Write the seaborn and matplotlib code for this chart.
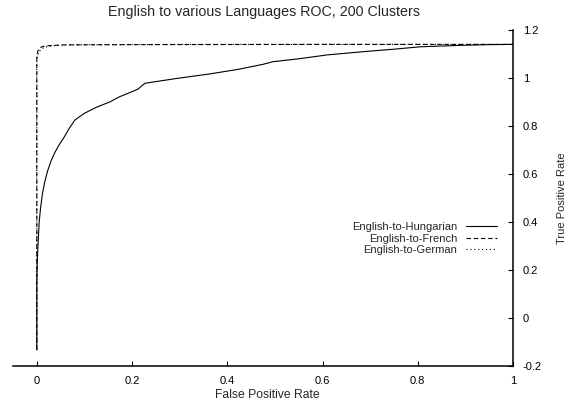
import matplotlib
matplotlib.use("Agg")
import matplotlib.pyplot as plt
import seaborn as sns
import pandas as pd

# ROC curve samples (false positive rate, true positive rate)
hungarian_fpr = [0.0, 0.0, 0.001, 0.003, 0.005, 0.008, 0.012, 0.017, 0.023, 0.030,
                 0.038, 0.047, 0.057, 0.068, 0.080, 0.100, 0.125, 0.153, 0.174, 0.200,
                 0.212, 0.227, 0.290, 0.363, 0.420, 0.475, 0.496, 0.550, 0.609, 0.693,
                 0.750, 0.805, 0.889, 0.950, 1.0]
hungarian_tpr = [-0.133, 0.146, 0.242, 0.325, 0.400, 0.460, 0.520, 0.570, 0.615, 0.655,
                 0.690, 0.722, 0.752, 0.790, 0.825, 0.853, 0.878, 0.900, 0.922, 0.943,
                 0.953, 0.978, 0.997, 1.017, 1.035, 1.057, 1.068, 1.080, 1.096, 1.111,
                 1.120, 1.130, 1.136, 1.139, 1.140]

french_fpr = [0.0, 0.0, 0.002, 0.004, 0.007, 0.012, 0.020, 0.035, 0.055, 0.200, 0.600, 1.0]
french_tpr = [-0.133, 1.090, 1.110, 1.120, 1.126, 1.131, 1.134, 1.136, 1.138, 1.139, 1.140, 1.140]

german_fpr = [0.0, 0.0, 0.002, 0.005, 0.009, 0.015, 0.025, 0.040, 0.070, 0.300, 1.0]
german_tpr = [-0.133, 1.070, 1.095, 1.110, 1.120, 1.127, 1.132, 1.135, 1.138, 1.140, 1.140]

x_ticks = [0, 0.2, 0.4, 0.6, 0.8, 1]
x_tick_labels = ["0", "0.2", "0.4", "0.6", "0.8", "1"]
y_ticks = [-0.2, 0, 0.2, 0.4, 0.6, 0.8, 1, 1.2]
y_tick_labels = ["-0.2", "0", "0.2", "0.4", "0.6", "0.8", "1", "1.2"]

sns.set_style("ticks")
plt.rcParams["font.family"] = ["Liberation Sans", "DejaVu Sans"]
plt.rcParams["font.size"] = 8

W, H = 570, 403
fig = plt.figure(figsize=(W / 100, H / 100), dpi=100)
ax = fig.add_axes([13 / W, 1 - 366 / H, 500 / W, 336 / H])

series = [
    ("English-to-Hungarian", hungarian_fpr, hungarian_tpr, "-"),
    ("English-to-French", french_fpr, french_tpr, (0, (4, 2.5))),
    ("English-to-German", german_fpr, german_tpr, (0, (1, 2.5))),
]
for name, fpr, tpr, ls in series:
    df = pd.DataFrame({"fpr": fpr, "tpr": tpr})
    sns.lineplot(data=df, x="fpr", y="tpr", ax=ax, color="black", linewidth=0.8,
                 linestyle=ls, sort=False, estimator=None, label=name)

ax.set_xlim(-0.05, 1.0)
ax.set_ylim(-0.2, 1.2)
ax.set_xticks(x_ticks)
ax.set_xticklabels(x_tick_labels)
ax.set_yticks(y_ticks)
ax.set_yticklabels(y_tick_labels)

for side in ("left", "top"):
    ax.spines[side].set_visible(False)
for side in ("bottom", "right"):
    ax.spines[side].set_linewidth(1.1)
    ax.spines[side].set_color("black")

ax.yaxis.tick_right()
ax.tick_params(axis="both", direction="in", length=3.5, width=0.8, colors="black",
               labelsize=8)
ax.tick_params(axis="x", pad=7)
ax.tick_params(axis="y", pad=7)
ax.set_xlabel("")
ax.set_ylabel("")

fig.text(264 / W, 1 - 12 / H, "English to various Languages ROC, 200 Clusters",
         ha="center", va="center", fontsize=10.3)
fig.text(267 / W, 1 - 395 / H, "False Positive Rate", ha="center", va="center",
         fontsize=8.7)
fig.text(562 / W, 1 - 198 / H, "True Positive Rate", ha="center", va="center",
         rotation=90, fontsize=8)

ax.legend(loc="center right", bbox_to_anchor=(497 / W, 1 - 238.5 / H),
          bbox_transform=fig.transFigure, frameon=False, markerfirst=False,
          handlelength=2.8, handletextpad=0.8, labelspacing=0.12,
          borderpad=0, borderaxespad=0, fontsize=8)

fig.savefig("out.png", dpi=100)
